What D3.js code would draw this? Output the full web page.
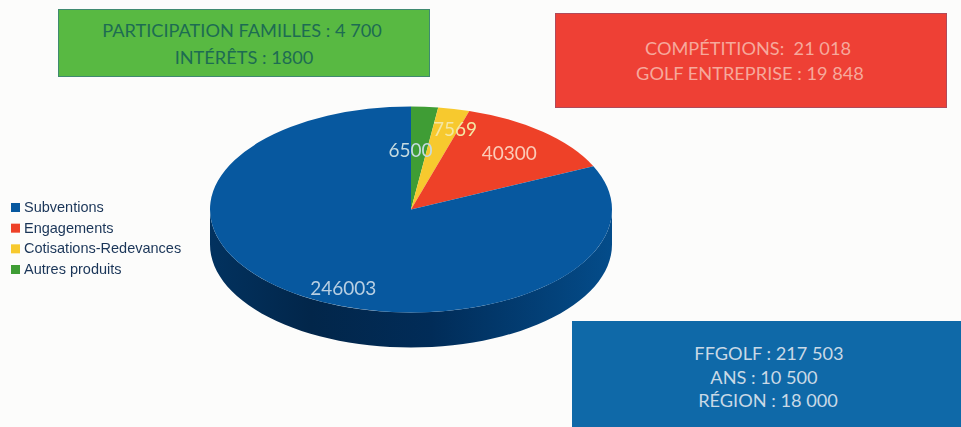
<!DOCTYPE html>
<html lang="fr">
<head>
    <meta charset="UTF-8">
    <title>Produits</title>
    <script src="https://cdnjs.cloudflare.com/ajax/libs/d3/7.8.5/d3.min.js"></script>
    <style>
        * { margin: 0; padding: 0; }
        body { background: #fcfcfb; overflow: hidden; }
        svg { display: block; filter: blur(0.5px); }
        .box-text { font-family: Lato, sans-serif; font-size: 18.2px; text-anchor: middle; dominant-baseline: central; white-space: pre; }
        .legend-text { font-family: "Liberation Sans", sans-serif; font-size: 14.5px; fill: #1a3558; dominant-baseline: central; }
        .value-label { font-family: Lato, sans-serif; font-size: 19px; text-anchor: middle; dominant-baseline: central; }
    </style>
</head>
<body>
<div id="chart"></div>

<script>
    // Values, clockwise from 12 o'clock as drawn in the picture
    const categories = ["Autres produits", "Cotisations-Redevances", "Engagements", "Subventions"];
    const values = [6500, 7569, 40300, 246003];
    const legendOrder = ["Subventions", "Engagements", "Cotisations-Redevances", "Autres produits"];

    const greenLines = ["PARTICIPATION FAMILLES : 4 700", "INTÉRÊTS : 1800"];
    const redLines = ["COMPÉTITIONS:  21 018", "GOLF ENTREPRISE : 19 848"];
    const blueLines = ["FFGOLF : 217 503", "ANS : 10 500", "RÉGION : 18 000"];

    const width = 961;
    const height = 427;
    const cx = 411, cy = 209.5;
    const rx = 201, ry = 103, depth = 35;

    const color = d3.scaleOrdinal()
        .domain(categories)
        .range(["#3f9d35", "#f7c92e", "#ee4128", "#07589f"]);

    const labelColor = d3.scaleOrdinal()
        .domain(categories)
        .range(["#c5dbe0", "#f4e7a4", "#fbcbb8", "#b8cfe2"]);

    const svg = d3.select("#chart")
        .append("svg")
        .attr("width", width)
        .attr("height", height);

    // Side of the pie, dark towards the middle
    const grad = svg.append("defs").append("linearGradient")
        .attr("id", "side")
        .attr("x1", "0").attr("x2", "1").attr("y1", "0").attr("y2", "0");
    grad.append("stop").attr("offset", "0").attr("stop-color", "#02325f");
    grad.append("stop").attr("offset", "0.25").attr("stop-color", "#02264a");
    grad.append("stop").attr("offset", "0.55").attr("stop-color", "#012c58");
    grad.append("stop").attr("offset", "1").attr("stop-color", "#044c8a");

    const pie = d3.pie().sort(null).value(d => d.value);
    const slices = pie(categories.map((c, i) => ({name: c, value: values[i]})));

    // Front wall: lower half of the ellipse, pushed down by depth
    const angles = d3.range(0, 181, 3).map(d => (d + 90) * Math.PI / 180);
    const edge = (a, dy) => [cx + rx * Math.sin(a), cy - ry * Math.cos(a) + dy];
    svg.append("path")
        .attr("d", d3.line()([
            ...angles.map(a => edge(a, 0)),
            ...angles.slice().reverse().map(a => edge(a, depth))
        ]) + "Z")
        .attr("fill", "url(#side)");

    // Top of the pie is a flat circle squashed into an ellipse
    const arc = d3.arc().innerRadius(0).outerRadius(rx);
    const pieTop = svg.append("g")
        .attr("transform", `translate(${cx},${cy}) scale(1,${ry / rx})`);
    pieTop.selectAll("path")
        .data(slices)
        .join("path")
        .attr("d", arc)
        .attr("fill", d => color(d.data.name));

    // Labels sit around the centroid, nudged the way the original placed them
    const labelArc = d3.arc().innerRadius(rx * 0.7).outerRadius(rx * 0.7);
    const nudge = {
        "Autres produits": [-10, 12],
        "Cotisations-Redevances": [14, -11],
        "Engagements": [6, -3],
        "Subventions": [8, 17]
    };
    svg.selectAll(".value-label")
        .data(slices)
        .join("text")
        .attr("class", "value-label")
        .attr("x", d => cx + labelArc.centroid(d)[0] + nudge[d.data.name][0])
        .attr("y", d => cy + labelArc.centroid(d)[1] * ry / rx + nudge[d.data.name][1])
        .attr("fill", d => labelColor(d.data.name))
        .text(d => d.data.value);

    // Legend
    const legendY = d3.scalePoint().domain(legendOrder).range([207, 269]);
    const legend = svg.selectAll(".legend")
        .data(legendOrder)
        .join("g")
        .attr("class", "legend")
        .attr("transform", d => `translate(11,${legendY(d)})`);
    legend.append("rect")
        .attr("y", -4).attr("width", 9).attr("height", 9)
        .attr("fill", d => color(d));
    legend.append("text")
        .attr("class", "legend-text")
        .attr("x", 13)
        .text(d => d);

    // Note boxes
    function noteBox(x, y, w, h, fill, stroke, textColor, lines, centers, lineY) {
        const g = svg.append("g");
        g.append("rect")
            .attr("x", x).attr("y", y).attr("width", w).attr("height", h)
            .attr("fill", fill).attr("stroke", stroke).attr("stroke-width", 1);
        g.selectAll("text")
            .data(lines)
            .join("text")
            .attr("class", "box-text")
            .attr("x", (d, i) => centers[i])
            .attr("y", (d, i) => lineY[i])
            .attr("fill", textColor)
            .text(d => d);
    }

    noteBox(58.5, 9.5, 371, 67, "#58b942", "#3f8a70", "#1d6c52", greenLines, [242, 244], [30, 57]);
    noteBox(555.5, 13.5, 391, 94, "#ee4035", "#b04a5a", "#f6a99c", redLines, [748, 750], [48, 73]);
    noteBox(572.5, 321.5, 400, 120, "#0f69a8", "#0f69a8", "#c9d9e6", blueLines, [769, 764, 768], [353, 377, 400]);
</script>
</body>
</html>
